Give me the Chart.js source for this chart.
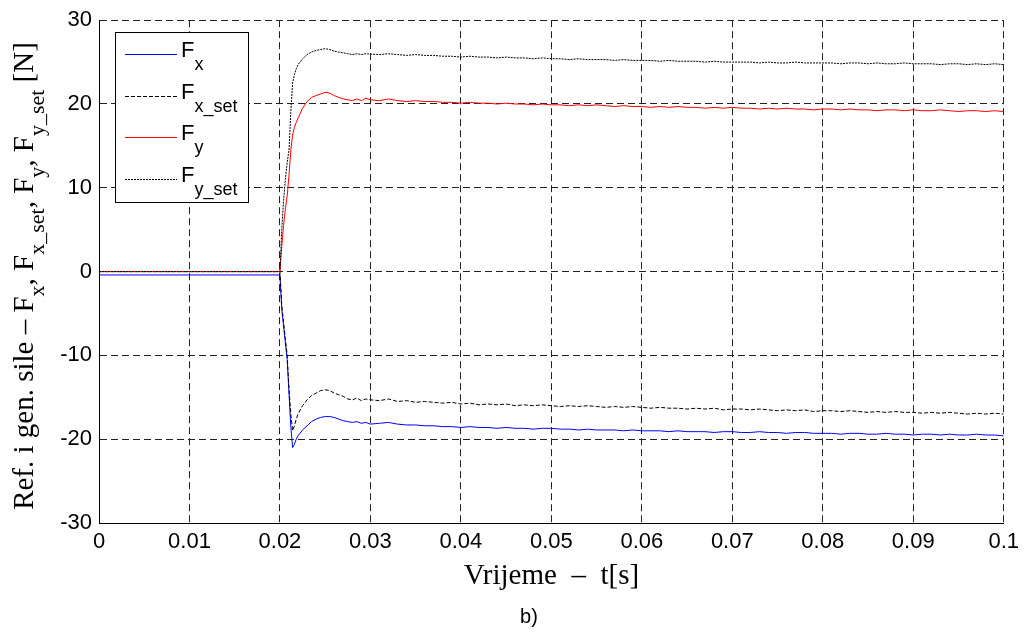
<!DOCTYPE html>
<html>
<head>
<meta charset="utf-8">
<script src="https://cdn.jsdelivr.net/npm/chart.js@4.4.1/dist/chart.umd.min.js"></script>
<style>
  html, body { margin: 0; padding: 0; background: #fff; }
  #wrap { width: 1025px; height: 635px; position: relative; }
</style>
</head>
<body>
<div id="wrap"><canvas id="graphCanvas"></canvas></div>
<script>
// time axis [s]
var time = [0, 0.02,
  0.0202, 0.0204, 0.0206, 0.0208, 0.021, 0.0212, 0.0214, 0.0216, 0.0218, 0.022,
  0.0225, 0.023, 0.0235, 0.024, 0.0245, 0.025, 0.0255, 0.026, 0.0265, 0.027, 0.0275, 0.028, 0.0285, 0.029, 0.0295, 0.03,
  0.031, 0.032, 0.033, 0.034, 0.035, 0.036, 0.037, 0.038, 0.039, 0.040,
  0.041, 0.042, 0.043, 0.044, 0.045, 0.046, 0.047, 0.048, 0.049, 0.050,
  0.051, 0.052, 0.053, 0.054, 0.055, 0.056, 0.057, 0.058, 0.059, 0.060,
  0.061, 0.062, 0.063, 0.064, 0.065, 0.066, 0.067, 0.068, 0.069, 0.070,
  0.071, 0.072, 0.073, 0.074, 0.075, 0.076, 0.077, 0.078, 0.079, 0.080,
  0.081, 0.082, 0.083, 0.084, 0.085, 0.086, 0.087, 0.088, 0.089, 0.090,
  0.091, 0.092, 0.093, 0.094, 0.095, 0.096, 0.097, 0.098, 0.099, 0.100];

var fx = [-0.4, -0.4,
  -4.5, -6.5, -8.5, -10.5, -14.5, -18.5, -21.0, -20.6, -20.0, -19.6,
  -18.9, -18.4, -17.9, -17.6, -17.4, -17.3, -17.3, -17.4, -17.6, -17.8, -17.9, -18.0, -17.9, -18.1, -18.0, -18.2,
  -18.1, -18.0, -18.2, -18.3, -18.3, -18.4, -18.4, -18.5, -18.5, -18.6,
  -18.5, -18.6, -18.6, -18.7, -18.6, -18.7, -18.7, -18.8, -18.7, -18.7,
  -18.8, -18.8, -18.9, -18.8, -18.9, -18.9, -18.9, -19.0, -18.9, -19.0,
  -19.0, -19.0, -19.1, -19.0, -19.1, -19.1, -19.1, -19.2, -19.1, -19.1,
  -19.2, -19.2, -19.1, -19.2, -19.2, -19.3, -19.2, -19.2, -19.3, -19.3,
  -19.3, -19.4, -19.3, -19.3, -19.4, -19.4, -19.3, -19.4, -19.4, -19.5,
  -19.4, -19.4, -19.5, -19.4, -19.5, -19.5, -19.4, -19.5, -19.5, -19.6];

var fxSet = [0, 0,
  -4.0, -6.0, -8.0, -10.0, -14.0, -17.0, -19.0, -18.4, -17.6, -17.0,
  -16.0, -15.3, -14.8, -14.5, -14.2, -14.1, -14.2, -14.5, -14.7, -14.9, -15.2, -15.3, -15.1, -15.4, -15.2, -15.3,
  -15.4, -15.2, -15.5, -15.4, -15.6, -15.5, -15.6, -15.7, -15.6, -15.8,
  -15.7, -15.9, -15.8, -15.9, -15.8, -16.0, -15.9, -16.0, -15.9, -16.0,
  -16.1, -16.0, -16.1, -16.0, -16.1, -16.2, -16.1, -16.2, -16.1, -16.2,
  -16.3, -16.2, -16.3, -16.3, -16.4, -16.3, -16.4, -16.3, -16.5, -16.4,
  -16.4, -16.5, -16.4, -16.5, -16.6, -16.5, -16.6, -16.5, -16.7, -16.6,
  -16.6, -16.7, -16.6, -16.7, -16.8, -16.7, -16.8, -16.7, -16.8, -16.8,
  -16.9, -16.8, -16.9, -16.8, -16.9, -17.0, -16.9, -17.0, -16.9, -17.0];

var fy = [0, 0,
  3.0, 5.5, 7.5, 9.0, 11.5, 14.5, 16.3, 17.2, 17.8, 18.3,
  19.5, 20.3, 20.8, 21.0, 21.2, 21.4, 21.3, 21.0, 20.8, 20.6, 20.5, 20.4, 20.6, 20.4, 20.7, 20.5,
  20.4, 20.6, 20.4, 20.3, 20.4, 20.3, 20.3, 20.2, 20.2, 20.1,
  20.2, 20.1, 20.1, 20.0, 20.1, 20.0, 20.0, 19.9, 20.0, 19.9,
  19.9, 19.8, 19.9, 19.8, 19.9, 19.8, 19.7, 19.8, 19.7, 19.7,
  19.6, 19.7, 19.6, 19.7, 19.6, 19.6, 19.5, 19.6, 19.5, 19.6,
  19.5, 19.5, 19.4, 19.5, 19.4, 19.5, 19.4, 19.4, 19.3, 19.4,
  19.4, 19.3, 19.4, 19.3, 19.3, 19.2, 19.3, 19.3, 19.2, 19.3,
  19.2, 19.2, 19.3, 19.2, 19.1, 19.2, 19.2, 19.1, 19.2, 19.1];

var fySet = [0, 0,
  5.0, 8.5, 11.0, 13.0, 14.5, 19.0, 22.5, 23.5, 24.2, 24.7,
  25.4, 25.9, 26.2, 26.4, 26.5, 26.6, 26.5, 26.3, 26.2, 26.1, 26.0, 25.9, 26.0, 25.9, 26.0, 25.95,
  25.9, 26.0, 25.9, 25.8, 25.9, 25.8, 25.8, 25.7, 25.7, 25.6,
  25.7, 25.6, 25.6, 25.5, 25.6, 25.5, 25.5, 25.4, 25.5, 25.4,
  25.4, 25.3, 25.4, 25.3, 25.3, 25.3, 25.2, 25.3, 25.2, 25.2,
  25.2, 25.1, 25.2, 25.1, 25.1, 25.1, 25.0, 25.1, 25.0, 25.0,
  25.0, 25.0, 24.9, 25.0, 24.9, 24.9, 25.0, 24.9, 24.9, 24.9,
  24.9, 24.8, 24.9, 24.9, 24.8, 24.9, 24.8, 24.8, 24.9, 24.8,
  24.8, 24.8, 24.7, 24.8, 24.8, 24.7, 24.8, 24.7, 24.8, 24.7];

var xTicksMin = 0, xTicksMax = 0.1, xStep = 0.01;
var yTicksMin = -30, yTicksMax = 30, yStep = 10;

// legend entries: main letter + subscript
var legendNames = [['F', 'x'], ['F', 'x_set'], ['F', 'y'], ['F', 'y_set']];
var lineColors = ['#0000ff', '#000000', '#ff0000', '#000000'];
var lineDashes = [[], [4, 2], [], [2, 1]];

function pts(vals) {
  var out = [];
  for (var i = 0; i < time.length; i++) out.push({ x: time[i], y: vals[i] });
  return out;
}

var SANS = '"Liberation Sans", Arial, sans-serif';
var SERIF = '"Liberation Serif", "Times New Roman", serif';

// text with subscripts along the current baseline
function richWidth(ctx, parts, size, subSize, fam) {
  var w = 0;
  parts.forEach(function (p) {
    ctx.font = (p[1] ? subSize : size) + 'px ' + fam;
    w += ctx.measureText(p[0]).width;
  });
  return w;
}
function drawRich(ctx, parts, x, y, size, subSize, subDy, fam) {
  parts.forEach(function (p) {
    ctx.font = (p[1] ? subSize : size) + 'px ' + fam;
    ctx.fillText(p[0], x, y + (p[1] ? subDy : 0));
    x += ctx.measureText(p[0]).width;
  });
}

var extras = {
  id: 'extras',
  afterDraw: function (chart) {
    var ctx = chart.ctx;
    var area = chart.chartArea;
    ctx.save();
    ctx.fillStyle = '#000';
    ctx.textBaseline = 'alphabetic';
    ctx.textAlign = 'left';

    // x axis title
    var xt = [['Vrijeme  \u2013  t[s]', 0]];
    var w = richWidth(ctx, xt, 29, 20, SERIF);
    drawRich(ctx, xt, (area.left + area.right) / 2 - w / 2, 584, 29, 20, 0, SERIF);

    // caption
    ctx.font = '20px ' + SANS;
    ctx.textAlign = 'center';
    ctx.fillText('b)', 529, 623);
    ctx.textAlign = 'left';

    // y axis title, rotated
    var yt = [['Ref. i gen. sile \u2013 F', 0], ['x', 1], [', F', 0], ['x_set', 1], [', F', 0], ['y', 1], [', F', 0], ['y_set', 1], [' [N]', 0]];
    ctx.save();
    ctx.translate(33, 276);
    ctx.rotate(-Math.PI / 2);
    var wy = richWidth(ctx, yt, 29, 22, SERIF);
    drawRich(ctx, yt, -wy / 2, 0, 29, 22, 11, SERIF);
    ctx.restore();

    // legend box
    var bx = 115, by = 32, bw = 133, bh = 170;
    ctx.fillStyle = '#fff';
    ctx.fillRect(bx, by, bw, bh);
    ctx.strokeStyle = '#000';
    ctx.lineWidth = 1;
    ctx.setLineDash([]);
    ctx.strokeRect(bx + 0.5, by + 0.5, bw, bh);
    var rowY = [54, 96, 137, 179];
    for (var i = 0; i < legendNames.length; i++) {
      if (lineDashes[i].length === 0) {
        ctx.fillStyle = lineColors[i];
        ctx.fillRect(125, rowY[i], 52, 1);
      } else {
        ctx.save();
        ctx.strokeStyle = lineColors[i];
        ctx.lineWidth = 1;
        ctx.setLineDash(lineDashes[i]);
        ctx.beginPath();
        ctx.moveTo(125, rowY[i] + 0.5);
        ctx.lineTo(177, rowY[i] + 0.5);
        ctx.stroke();
        ctx.restore();
      }
      ctx.fillStyle = '#000';
      drawRich(ctx, [[legendNames[i][0], 0], [legendNames[i][1], 1]], 181, rowY[i] + 3, 22, 18, 13, SANS);
    }
    ctx.restore();
  }
};

var canvas = document.getElementById('graphCanvas');
var ctx = canvas.getContext('2d');

var config = {
  type: 'line',
  data: {
    datasets: [
      { label: 'F_x', data: pts(fx), borderColor: lineColors[0], borderWidth: 1, borderDash: lineDashes[0], order: 4 },
      { label: 'F_x_set', data: pts(fxSet), borderColor: lineColors[1], borderWidth: 1, borderDash: lineDashes[1], order: 3 },
      { label: 'F_y', data: pts(fy), borderColor: lineColors[2], borderWidth: 1, borderDash: lineDashes[2], order: 2 },
      { label: 'F_y_set', data: pts(fySet), borderColor: lineColors[3], borderWidth: 1, borderDash: lineDashes[3], order: 1 }
    ]
  },
  options: {
    responsive: true,
    maintainAspectRatio: false,
    animation: false,
    events: [],
    elements: { point: { radius: 0 }, line: { tension: 0, fill: false } },
    layout: { padding: { top: 20, right: 20, left: 0, bottom: 0 } },
    plugins: { legend: { display: false }, tooltip: { enabled: false } },
    scales: {
      x: {
        type: 'linear',
        min: xTicksMin, max: xTicksMax,
        ticks: {
          stepSize: xStep, color: '#000', padding: 6,
          font: { family: SANS, size: 22 },
          maxRotation: 0, autoSkip: false,
          callback: function (v) { return String(+v.toFixed(2)); }
        },
        grid: { color: '#222', lineWidth: 1, drawTicks: false },
        border: { display: true, color: '#000', width: 1, dash: [7, 4] },
        afterFit: function (s) { s.height = 112; }
      },
      y: {
        type: 'linear',
        min: yTicksMin, max: yTicksMax,
        ticks: {
          stepSize: yStep, color: '#000', padding: 7,
          font: { family: SANS, size: 22 },
          callback: function (v) { return String(v); }
        },
        grid: { color: '#222', lineWidth: 1, drawTicks: false },
        border: { display: true, color: '#000', width: 1, dash: [7, 4] },
        afterFit: function (s) { s.width = 99; }
      }
    }
  },
  plugins: [extras]
};

var graph = new Chart(ctx, config);
</script>
</body>
</html>
